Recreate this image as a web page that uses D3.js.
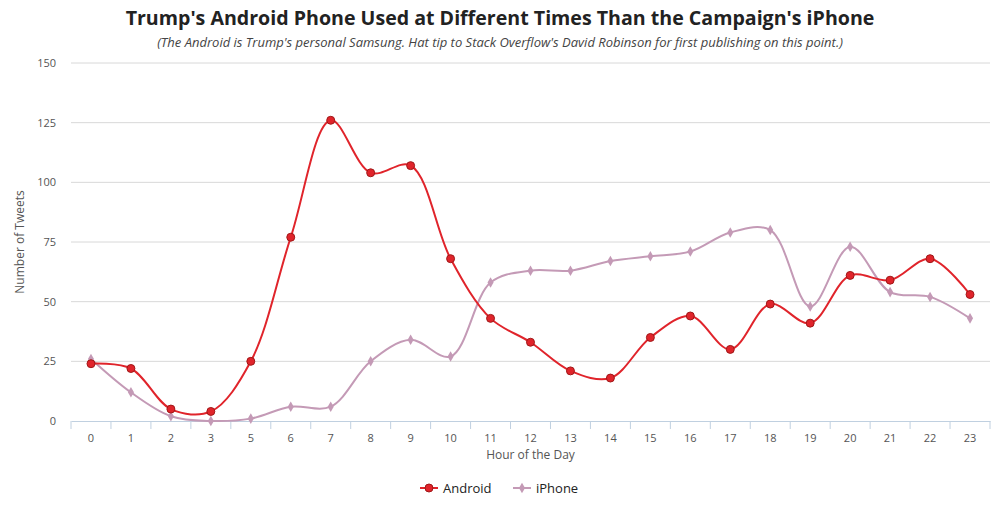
<!DOCTYPE html>
<html><head><meta charset="utf-8">
<script src="https://cdn.jsdelivr.net/npm/d3@7"></script>
<style>body{margin:0;background:#fff;font-family:"Open Sans",Lato,sans-serif}</style>
</head><body><svg id="chart"></svg>
<script>
const hours = ["0","1","2","3","5","6","7","8","9","10","11","12","13","14","15","16","17","18","19","20","21","22","23"];
const android = [24,22,5,4,25,77,126,104,107,68,43,33,21,18,35,44,30,49,41,61,59,68,53];
const iphone = [26,12,2,0,1,6,6,25,34,27,58,63,63,67,69,71,79,80,48,73,54,52,43];
const yTicks = [0,25,50,75,100,125,150];

const W = 1000, H = 515;
const m = {l: 71, r: 10, t: 63, b: 94};
const svg = d3.select("#chart").attr("width", W).attr("height", H);

const x = d3.scaleBand().domain(hours).range([m.l, W - m.r]);
const y = d3.scaleLinear().domain([0, 150]).range([H - m.b, m.t]);

svg.append("text").attr("x", W/2).attr("y", 25).attr("text-anchor", "middle")
  .attr("font-size", 19.6).attr("font-weight", "bold").attr("fill", "#222")
  .text("Trump's Android Phone Used at Different Times Than the Campaign's iPhone");
svg.append("text").attr("x", W/2).attr("y", 47).attr("text-anchor", "middle")
  .attr("font-size", 13).attr("font-style", "italic").attr("fill", "#444")
  .text("(The Android is Trump's personal Samsung. Hat tip to Stack Overflow's David Robinson for first publishing on this point.)");

svg.append("g").selectAll("line").data(yTicks.filter(d => d > 0)).join("line")
  .attr("x1", m.l).attr("x2", W - m.r).attr("y1", d => y(d)).attr("y2", d => y(d))
  .attr("stroke", "#d8d8d8");
svg.append("g").selectAll("text").data(yTicks).join("text")
  .attr("x", m.l - 15).attr("y", d => y(d) + 4).attr("text-anchor", "end")
  .attr("font-size", 11).attr("fill", "#555").text(d => d);

const xa = svg.append("g").attr("transform", `translate(0,${y(0)})`)
  .call(d3.axisBottom(x).tickSize(8).tickSizeOuter(0));
xa.select(".domain").attr("stroke", "#c0d0e0");
xa.selectAll(".tick line").attr("stroke", "#c0d0e0")
  .attr("transform", `translate(${x.bandwidth()/2},0)`);
xa.selectAll(".tick text").attr("font-size", 11).attr("fill", "#555").attr("font-family", "Open Sans").attr("dy", "0.9em");
xa.append("line").attr("x1", m.l).attr("x2", m.l).attr("y1", 0).attr("y2", 8).attr("stroke", "#c0d0e0");

svg.append("text").attr("x", (m.l + W - m.r)/2).attr("y", 459).attr("text-anchor", "middle")
  .attr("font-size", 12).attr("fill", "#555").text("Hour of the Day");
svg.append("text").attr("transform", `translate(24,${(m.t + H - m.b)/2}) rotate(-90)`)
  .attr("text-anchor", "middle").attr("font-size", 12).attr("fill", "#555").text("Number of Tweets");

const cx = (d, i) => x(hours[i]) + x.bandwidth()/2;
const line = d3.line().x(cx).y(d => y(d)).curve(d3.curveCatmullRom.alpha(0.5));

const series = [
  {name: "Android", values: android, color: "#e0242b", marker: "circle"},
  {name: "iPhone", values: iphone, color: "#c49ab6", marker: "diamond"}
];
const sym = {circle: d3.symbol(d3.symbolCircle, 50), diamond: d3.symbol(d3.symbolDiamond, 32)};

series.slice().reverse().forEach(s => {
  svg.append("path").attr("d", line(s.values)).attr("fill", "none")
    .attr("stroke", s.color).attr("stroke-width", 2);
  svg.append("g").selectAll("path").data(s.values).join("path")
    .attr("transform", (d, i) => `translate(${cx(d, i)},${y(d)})`)
    .attr("d", sym[s.marker]).attr("fill", s.color)
    .attr("stroke", s.marker === "circle" ? "#a01818" : "none").attr("stroke-width", 1);
});

const lg = svg.append("g");
const lx = [420, 513];
series.forEach((s, i) => {
  const g = lg.append("g").attr("transform", `translate(${lx[i]},488)`);
  g.append("line").attr("x1", 0).attr("x2", 18).attr("stroke", s.color).attr("stroke-width", 2);
  g.append("path").attr("transform", "translate(9,0)").attr("d", sym[s.marker]).attr("fill", s.color)
    .attr("stroke", s.marker === "circle" ? "#a01818" : "none");
  g.append("text").attr("x", 23).attr("y", 5).attr("font-size", 13).attr("fill", "#222").text(s.name);
});
</script>
</body></html>
